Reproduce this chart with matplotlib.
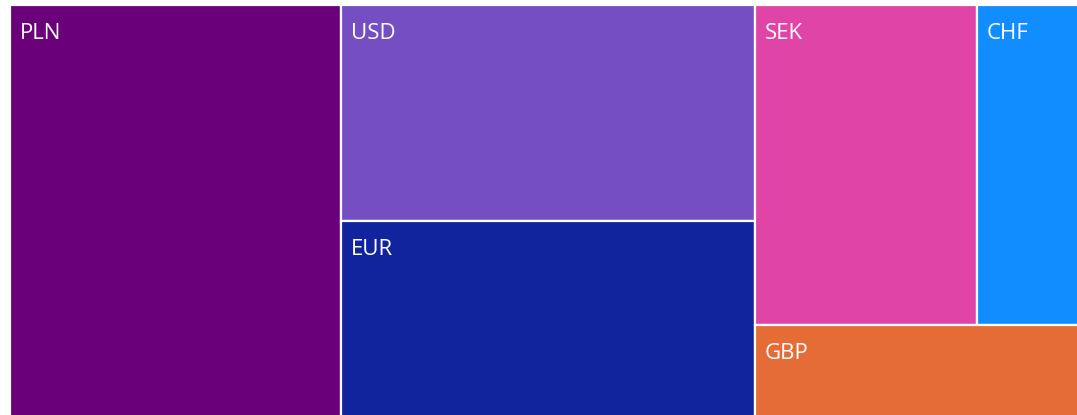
import matplotlib.pyplot as plt
from matplotlib.patches import Rectangle

# share of each currency (estimated from the rectangle areas)
currencies = ["PLN", "USD", "EUR", "SEK", "CHF", "GBP"]
values = [30.9, 20.2, 18.4, 16.1, 7.4, 6.8]
colors = ["#6B007B", "#744EC2", "#12239E", "#E044A7", "#118DFF", "#E66C37"]

val = dict(zip(currencies, values))
total = sum(values)

fig = plt.figure(figsize=(10.77, 4.15), dpi=100)
ax = fig.add_axes([10 / 1077, 0, 1067 / 1077, 410 / 415])
# the treemap runs a little off the bottom and right edge of the picture
ax.set_xlim(0, 0.998)
ax.set_ylim(0.005, 1)
ax.axis("off")

# columns: [PLN] | [USD over EUR] | [[SEK, CHF] over GBP]
rects = {}
x = 0
w = val["PLN"] / total
rects["PLN"] = (x, 0, w, 1)
x += w

col = val["USD"] + val["EUR"]
w = col / total
h_usd = val["USD"] / col
rects["USD"] = (x, 1 - h_usd, w, h_usd)
rects["EUR"] = (x, 0, w, 1 - h_usd)
x += w

col = val["SEK"] + val["CHF"] + val["GBP"]
w = col / total
h_top = (val["SEK"] + val["CHF"]) / col
w_sek = w * val["SEK"] / (val["SEK"] + val["CHF"])
rects["SEK"] = (x, 1 - h_top, w_sek, h_top)
rects["CHF"] = (x + w_sek, 1 - h_top, w - w_sek, h_top)
rects["GBP"] = (x, 0, w, 1 - h_top)

for name, c in zip(currencies, colors):
    rx, ry, rw, rh = rects[name]
    ax.add_patch(Rectangle((rx, ry), rw, rh, facecolor=c, edgecolor="white", linewidth=1.6))
    ax.annotate(name, (rx, ry + rh), xytext=(10, -18), textcoords="offset pixels",
                ha="left", va="top", color="white", fontsize=16, family="Open Sans")

fig.savefig("out.png", dpi=100)
